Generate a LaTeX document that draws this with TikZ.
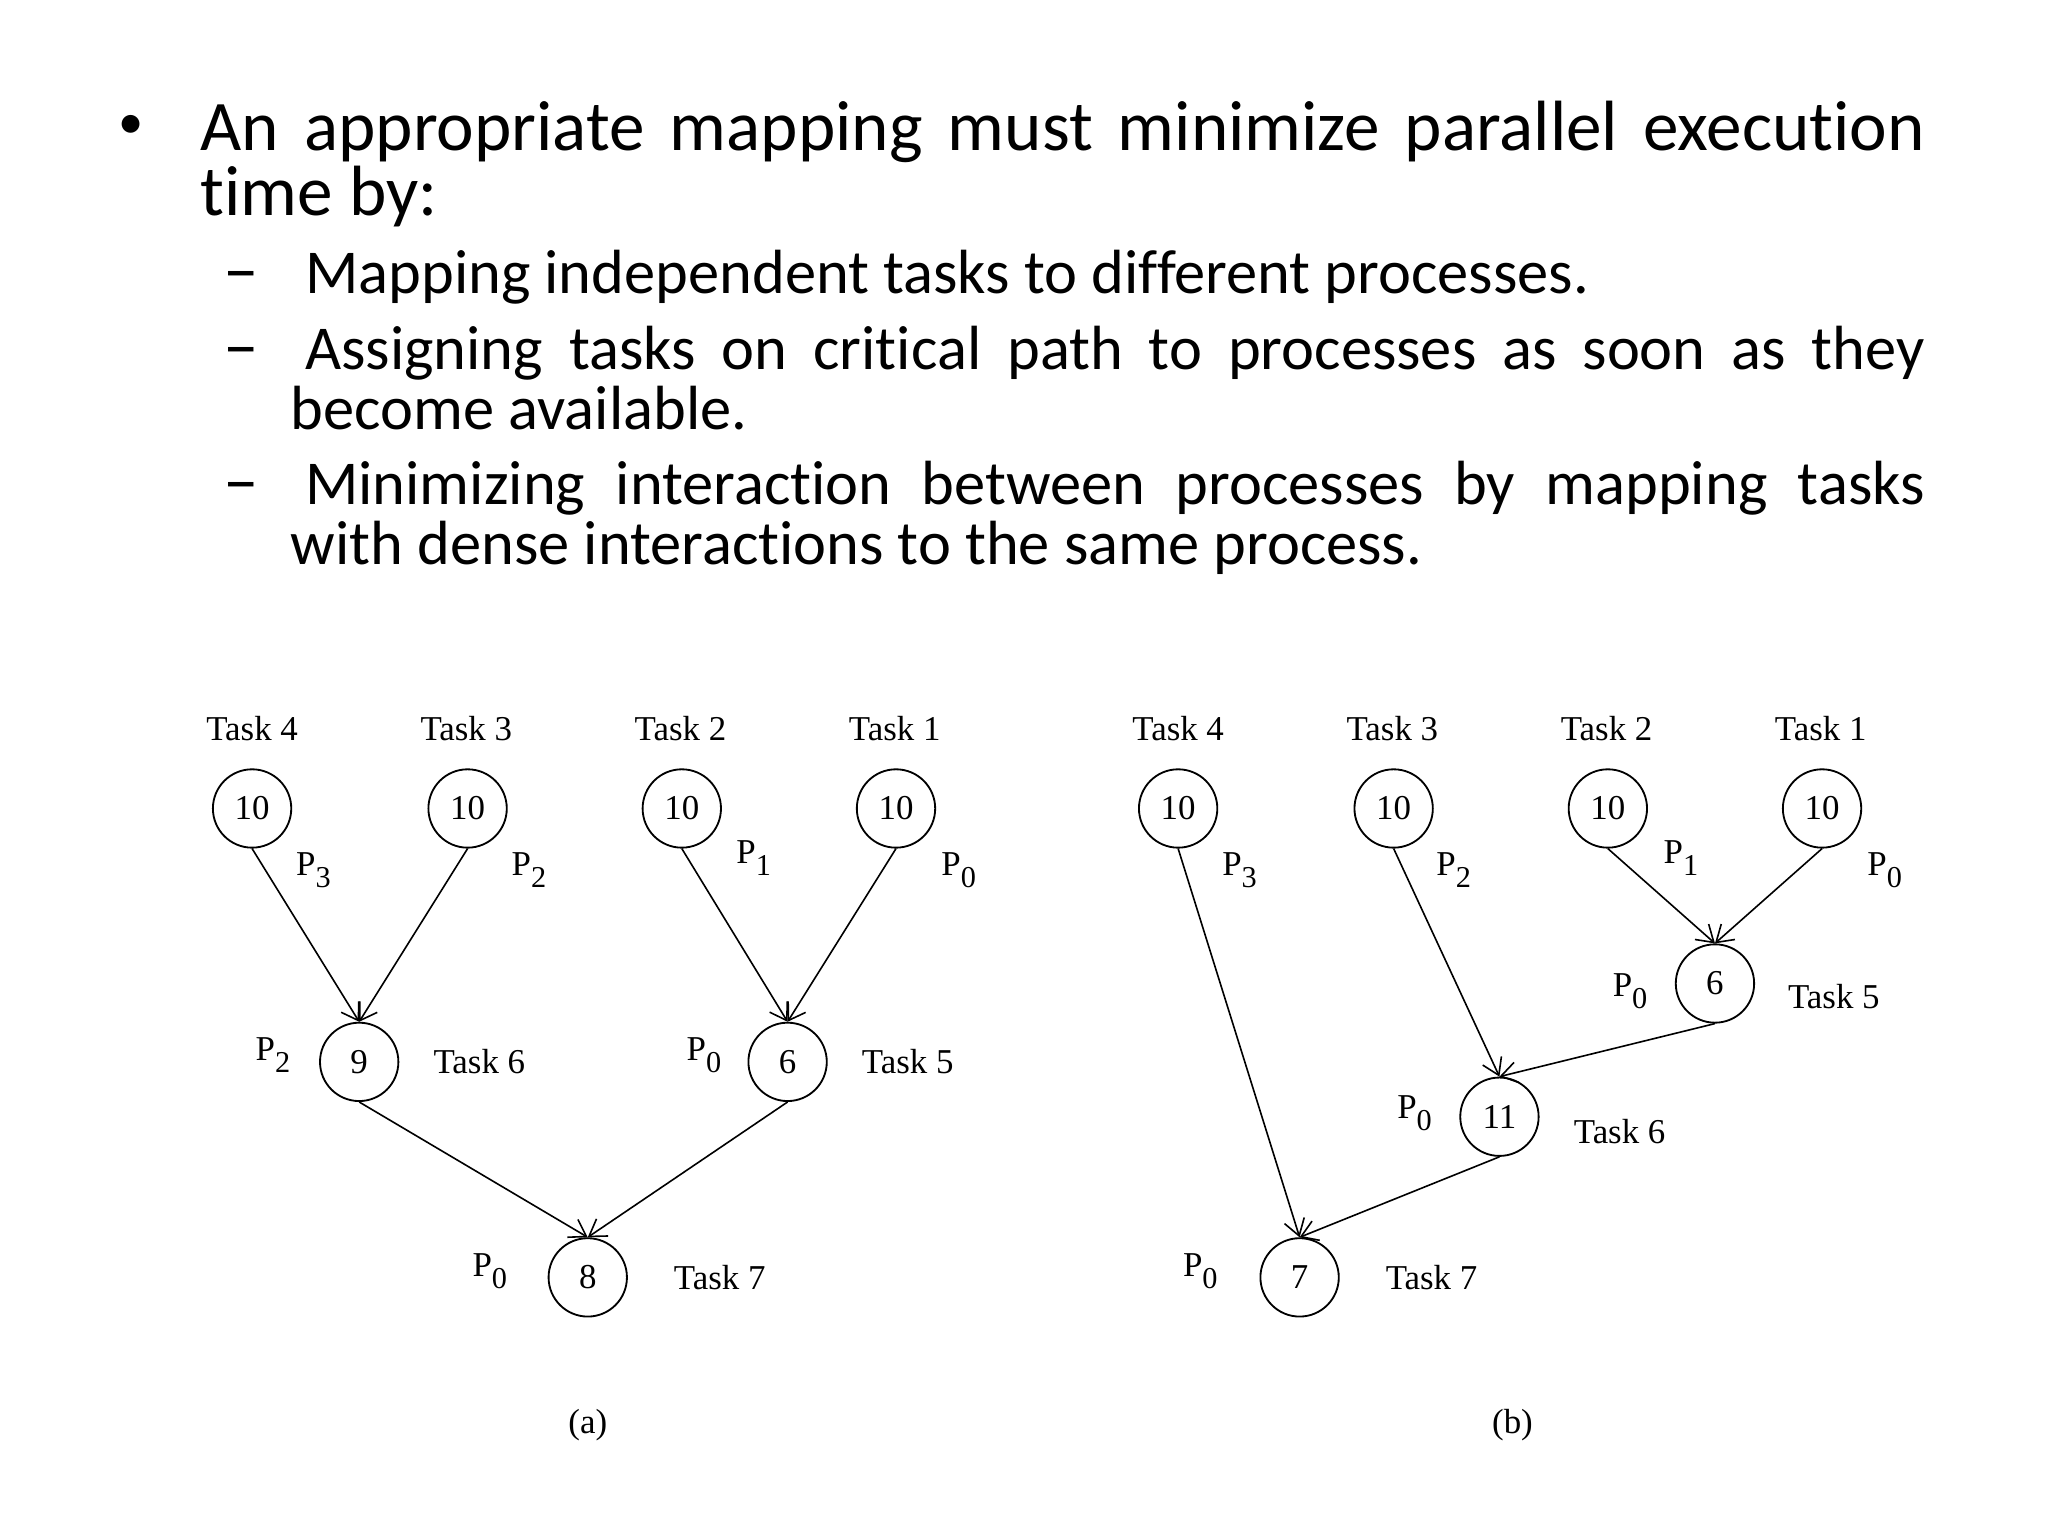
\documentclass[tikz,border=0pt]{standalone}
\usepackage{fontspec}
\setmainfont{Liberation Serif}
\newfontfamily\slidefont[Ligatures={TeX,NoCommon}]{Carlito}
\usetikzlibrary{arrows.meta}

\newcommand{\dagfont}{\fontsize{7.6}{9}\selectfont}
\newcommand{\pn}[1]{P\raisebox{-2.6pt}{\fontsize{6.6}{7}\selectfont #1}}

\begin{document}
\begin{tikzpicture}[x=1cm,y=-1cm,
  task/.style={circle,draw,line width=0.4pt,minimum size=0.6cm,inner sep=0pt,font=\dagfont},
  lbl/.style={font=\dagfont,inner sep=0pt},
  dep/.style={-{Straight Barb[length=3.5pt,width=4.5pt]},line width=0.35pt},
  mainline/.style={anchor=base west,inner sep=0pt,font=\slidefont\fontsize{15.5}{18}\selectfont},
  subline/.style={anchor=base west,inner sep=0pt,font=\slidefont\fontsize{13.6}{16}\selectfont},
  subdash/.style={anchor=base,inner sep=0pt,font=\slidefont\fontsize{15.5}{16}\selectfont}]
  \useasboundingbox (0,0) rectangle (15.68,11.76);

  % bullet text
  \node[inner sep=0pt,font=\slidefont\fontsize{11}{12}\selectfont] (bul) at (1.00,0.97) {\textbullet};
  \node[mainline] (l1) at (1.53,1.15) {\makebox[13.2cm][s]{An appropriate mapping must minimize parallel execution}};
  \node[mainline] (l2) at (1.53,1.65) {time by:};
  \node[subdash] (d1) at (1.85,2.25) {\textendash};
  \node[subline] (s1) at (2.33,2.25) {Mapping independent tasks to different processes.};
  \node[subdash] (d2) at (1.85,2.83) {\textendash};
  \node[subline] (s2) at (2.33,2.83) {\makebox[12.4cm][s]{Assigning tasks on critical path to processes as soon as they}};
  \node[subline] (s2b) at (2.22,3.29) {become available.};
  \node[subdash] (d3) at (1.85,3.86) {\textendash};
  \node[subline] (s3) at (2.33,3.86) {\makebox[12.4cm][s]{Minimizing interaction between processes by mapping tasks}};
  \node[subline] (s3b) at (2.22,4.32) {with dense interactions to the same process.};

  % (a)
  \node[lbl] (n4a) at (1.93,5.58) {Task 4};
  \node[lbl] (n3a) at (3.57,5.58) {Task 3};
  \node[lbl] (n2a) at (5.21,5.58) {Task 2};
  \node[lbl] (n1a) at (6.85,5.58) {Task 1};
  \node[task] (t4a) at (1.93,6.19) {10};
  \node[task] (t3a) at (3.58,6.19) {10};
  \node[task] (t2a) at (5.22,6.19) {10};
  \node[task] (t1a) at (6.86,6.19) {10};
  \node[task] (t6a) at (2.75,8.13) {9};
  \node[task] (t5a) at (6.03,8.13) {6};
  \node[task] (t7a) at (4.50,9.78) {8};
  \node[lbl] (p4a) at (2.40,6.66) {\pn{3}};
  \node[lbl] (p3a) at (4.05,6.66) {\pn{2}};
  \node[lbl] (p2a) at (5.77,6.57) {\pn{1}};
  \node[lbl] (p1a) at (7.34,6.66) {\pn{0}};
  \node[lbl] (p6a) at (2.09,8.08) {\pn{2}};
  \node[lbl] (p5a) at (5.39,8.08) {\pn{0}};
  \node[lbl] (p7a) at (3.75,9.73) {\pn{0}};
  \node[lbl] (n6a) at (3.67,8.13) {Task 6};
  \node[lbl] (n5a) at (6.95,8.13) {Task 5};
  \node[lbl] (n7a) at (5.51,9.78) {Task 7};
  \node[lbl] (capa) at (4.50,10.91) {(a)};
  \foreach \s/\t in {t4a/t6a,t3a/t6a,t2a/t5a,t1a/t5a,t6a/t7a,t5a/t7a}
    \draw[dep] (\s.south) -- (\t.north);

  % (b)
  \node[lbl] (n4b) at (9.02,5.58) {Task 4};
  \node[lbl] (n3b) at (10.66,5.58) {Task 3};
  \node[lbl] (n2b) at (12.30,5.58) {Task 2};
  \node[lbl] (n1b) at (13.94,5.58) {Task 1};
  \node[task] (t4b) at (9.02,6.19) {10};
  \node[task] (t3b) at (10.67,6.19) {10};
  \node[task] (t2b) at (12.31,6.19) {10};
  \node[task] (t1b) at (13.95,6.19) {10};
  \node[task] (t5b) at (13.13,7.53) {6};
  \node[task] (t6b) at (11.48,8.55) {11};
  \node[task] (t7b) at (9.95,9.78) {7};
  \node[lbl] (p4b) at (9.49,6.66) {\pn{3}};
  \node[lbl] (p3b) at (11.13,6.66) {\pn{2}};
  \node[lbl] (p2b) at (12.87,6.57) {\pn{1}};
  \node[lbl] (p1b) at (14.43,6.66) {\pn{0}};
  \node[lbl] (p5b) at (12.48,7.59) {\pn{0}};
  \node[lbl] (p6b) at (10.83,8.52) {\pn{0}};
  \node[lbl] (p7b) at (9.19,9.73) {\pn{0}};
  \node[lbl] (n5b) at (14.04,7.63) {Task 5};
  \node[lbl] (n6b) at (12.40,8.66) {Task 6};
  \node[lbl] (n7b) at (10.96,9.78) {Task 7};
  \node[lbl] (capb) at (11.58,10.91) {(b)};
  \foreach \s/\t in {t4b/t7b,t3b/t6b,t2b/t5b,t1b/t5b,t5b/t6b,t6b/t7b}
    \draw[dep] (\s.south) -- (\t.north);
\end{tikzpicture}
\end{document}
